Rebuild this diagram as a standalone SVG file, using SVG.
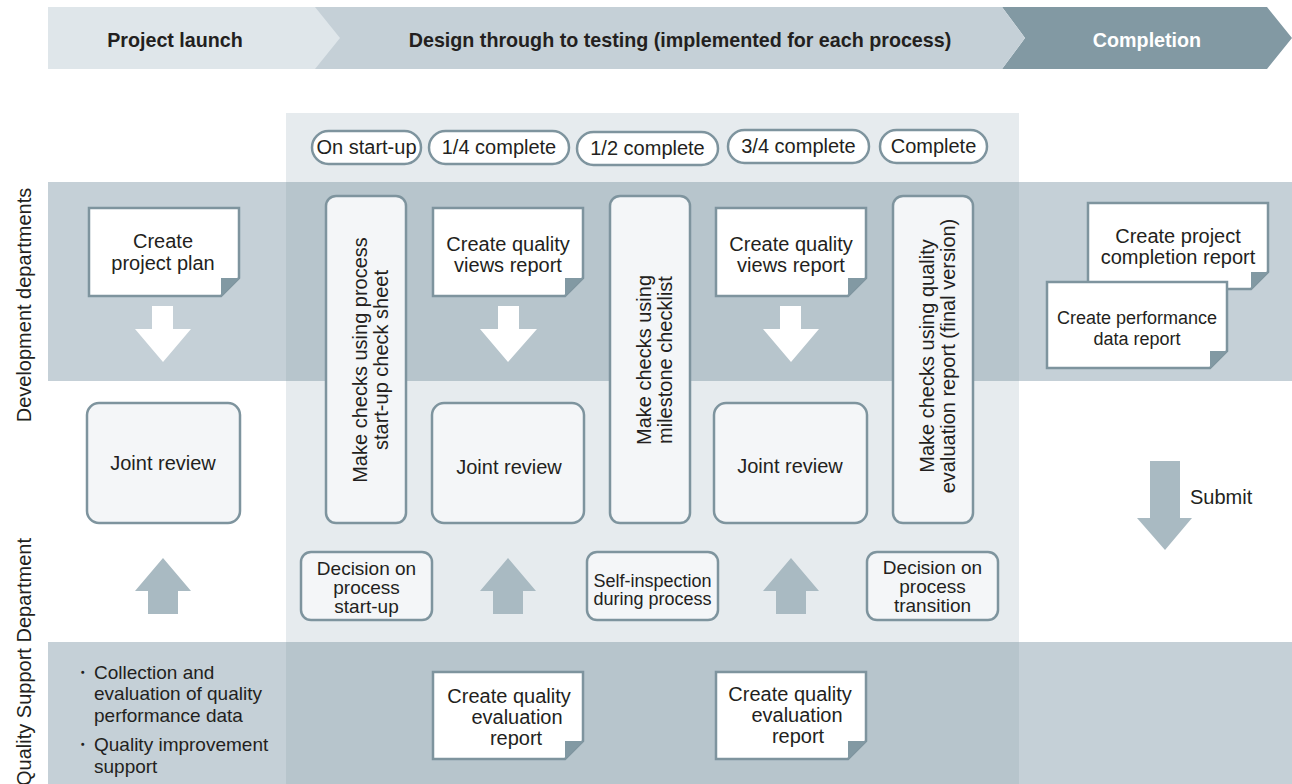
<svg xmlns="http://www.w3.org/2000/svg" width="1292" height="784" viewBox="0 0 1292 784">
<style>
text{font-family:"Liberation Sans",Arial,sans-serif;fill:#231f20;font-size:20px}
.hd{font-weight:bold;font-size:19.7px}
.c{text-anchor:middle}
.s18{font-size:18px}
.s19{font-size:19px}
.doc{fill:#fff;stroke:#7e949e;stroke-width:2.5}
.fold{fill:#8299a3}
.box{fill:#f4f6f8;stroke:#7e949e;stroke-width:2.5}
.pill{fill:#fff;stroke:#7e949e;stroke-width:2.5}
.up{fill:#a9bac2}
.dn{fill:#fff}
</style>
<rect width="1292" height="784" fill="#fff"/>
<g id="header">
<polygon points="1002,7 1267,7 1292,38 1267,69 1002,69 1025,38" fill="#8299a3"/>
<polygon points="300,7 1002,7 1025,38 1002,69 300,69" fill="#c5d0d7"/>
<polygon points="48,7 315,7 340,38 315,69 48,69" fill="#dfe6ea"/>
<text class="hd c" x="175" y="47">Project launch</text>
<text class="hd c" x="680" y="47">Design through to testing (implemented for each process)</text>
<text class="hd c" x="1147" y="47" style="fill:#fff">Completion</text>
</g>
<g id="lanes">
<rect x="286" y="113" width="733" height="671" fill="#e6ebee"/>
<rect x="48" y="182" width="1244" height="199" fill="#c5d0d7"/>
<rect x="286" y="182" width="733" height="199" fill="#b7c5cc"/>
<rect x="48" y="642" width="1244" height="142" fill="#c5d0d7"/>
<rect x="286" y="642" width="733" height="142" fill="#b7c5cc"/>
<text class="c" transform="translate(31,305) rotate(-90)">Development departments</text>
<text class="c" transform="translate(31,662) rotate(-90)">Quality Support Department</text>
</g>
<g id="milestones">
<rect class="pill" x="312" y="131" width="109" height="33" rx="16.5"/>
<text class="c" x="366.5" y="154">On start-up</text>
<rect class="pill" x="429" y="131" width="140" height="33" rx="16.5"/>
<text class="c" x="499" y="154">1/4 complete</text>
<rect class="pill" x="577" y="132" width="141" height="33" rx="16.5"/>
<text class="c" x="647.5" y="155">1/2 complete</text>
<rect class="pill" x="728" y="130" width="141" height="33" rx="16.5"/>
<text class="c" x="798.5" y="153">3/4 complete</text>
<rect class="pill" x="880" y="130" width="107" height="33" rx="16.5"/>
<text class="c" x="933.5" y="153">Complete</text>
</g>
<g id="connectors">
<polygon class="dn" points="152,306 173,306 173,329 191,329 163,362 135,329 152,329"/>
<polygon class="dn" points="498,306 519,306 519,329 537,329 508,362 480,329 498,329"/>
<polygon class="dn" points="780,306 801,306 801,329 819,329 791,362 763,329 780,329"/>
<polygon class="up" points="163,558 191,591 178,591 178,614 148,614 148,591 135,591"/>
<polygon class="up" points="508,558 536,591 523,591 523,614 493,614 493,591 480,591"/>
<polygon class="up" points="791,558 819,591 806,591 806,614 776,614 776,591 763,591"/>
<polygon class="up" points="1150,461 1180,461 1180,518 1192,518 1165,550 1137,518 1150,518"/>
<text x="1190" y="504">Submit</text>
</g>
<g id="doc-project-plan">
<path class="doc" d="M89 208H239V278L221 296H89Z"/>
<path class="fold" d="M239 278L221 296V278Z"/>
<text class="c" x="163" y="248">Create</text>
<text class="c" x="163" y="270">project plan</text>
</g>
<g id="doc-views-1">
<path class="doc" d="M433 208H583V278L565 296H433Z"/>
<path class="fold" d="M583 278L565 296V278Z"/>
<text class="c" x="508" y="251">Create quality</text>
<text class="c" x="508" y="272">views report</text>
</g>
<g id="doc-views-2">
<path class="doc" d="M716 208H866V278L848 296H716Z"/>
<path class="fold" d="M866 278L848 296V278Z"/>
<text class="c" x="791" y="251">Create quality</text>
<text class="c" x="791" y="272">views report</text>
</g>
<g id="doc-completion">
<path class="doc" d="M1088 203H1268V272L1251 289H1088Z"/>
<path class="fold" d="M1268 272L1251 289V272Z"/>
<text class="c" x="1178" y="243">Create project</text>
<text class="c" x="1178" y="264">completion report</text>
</g>
<g id="doc-performance">
<path class="doc" d="M1047 282H1227V351L1210 368H1047Z"/>
<path class="fold" d="M1227 351L1210 368V351Z"/>
<text class="c s18" x="1137" y="324">Create performance</text>
<text class="c s18" x="1137" y="345">data report</text>
</g>
<g id="check-startup">
<rect class="box" x="326" y="196" width="80" height="327" rx="10"/>
<text class="c" transform="translate(366,360) rotate(-90)"><tspan x="0" y="1">Make checks using process</tspan><tspan x="0" y="22">start-up check sheet</tspan></text>
</g>
<g id="check-milestone">
<rect class="box" x="610" y="196" width="80" height="327" rx="10"/>
<text class="c" transform="translate(650,360) rotate(-90)"><tspan x="0" y="1">Make checks using</tspan><tspan x="0" y="22">milestone checklist</tspan></text>
</g>
<g id="check-final">
<rect class="box" x="893" y="196" width="80" height="327" rx="10"/>
<text class="c" transform="translate(933,356) rotate(-90)"><tspan x="0" y="1">Make checks using quality</tspan><tspan x="0" y="22">evaluation report (final version)</tspan></text>
</g>
<g id="review-1">
<rect class="box" x="87" y="403" width="153" height="120" rx="12"/>
<text class="c" x="163" y="470">Joint review</text>
</g>
<g id="review-2">
<rect class="box" x="432" y="403" width="152" height="120" rx="12"/>
<text class="c" x="509" y="474">Joint review</text>
</g>
<g id="review-3">
<rect class="box" x="714" y="403" width="153" height="120" rx="12"/>
<text class="c" x="790" y="473">Joint review</text>
</g>
<g id="decision-startup">
<rect class="box" x="301" y="552" width="131" height="68" rx="10"/>
<text class="c s19" x="366.5" y="575">Decision on</text>
<text class="c s19" x="366.5" y="594">process</text>
<text class="c s19" x="366.5" y="613">start-up</text>
</g>
<g id="self-inspection">
<rect class="box" x="587" y="552" width="131" height="68" rx="10"/>
<text class="c s18" x="652.5" y="587">Self-inspection</text>
<text class="c s18" x="652.5" y="605">during process</text>
</g>
<g id="decision-transition">
<rect class="box" x="867" y="552" width="131" height="68" rx="10"/>
<text class="c s19" x="932.5" y="574">Decision on</text>
<text class="c s19" x="932.5" y="593">process</text>
<text class="c s19" x="932.5" y="612">transition</text>
</g>
<g id="quality-tasks">
<text x="73" y="679" class="s19">・</text>
<text x="94" y="679" class="s19">Collection and</text>
<text x="94" y="700" class="s19">evaluation of quality</text>
<text x="94" y="722" class="s19">performance data</text>
<text x="73" y="751" class="s19">・</text>
<text x="94" y="751" class="s19">Quality improvement</text>
<text x="94" y="773" class="s19">support</text>
</g>
<g id="doc-eval-1">
<path class="doc" d="M433 672H583V741L565 759H433Z"/>
<path class="fold" d="M583 741L565 759V741Z"/>
<text class="c" x="509" y="703">Create quality</text>
<text class="c" x="517" y="724">evaluation</text>
<text class="c" x="516" y="745">report</text>
</g>
<g id="doc-eval-2">
<path class="doc" d="M716 672H866V741L848 759H716Z"/>
<path class="fold" d="M866 741L848 759V741Z"/>
<text class="c" x="790" y="701">Create quality</text>
<text class="c" x="797" y="722">evaluation</text>
<text class="c" x="798" y="743">report</text>
</g>
</svg>
